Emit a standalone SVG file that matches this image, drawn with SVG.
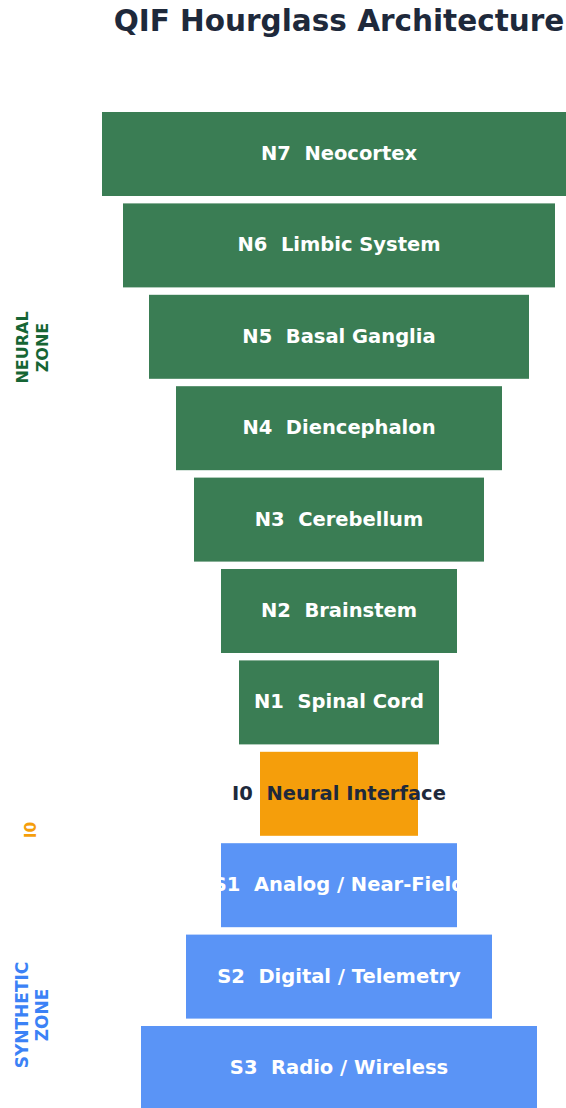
<svg xmlns="http://www.w3.org/2000/svg" width="566" height="1108" viewBox="0 0 566 1108" xml:space="preserve">
<style>
text{font-family:"DejaVu Sans",Verdana,sans-serif;font-weight:bold;white-space:pre}
.t{font-size:29.5px;fill:#1e293b}
.l{font-size:19.5px;fill:#ffffff;text-anchor:middle}
.d{fill:#1e293b}
.n rect{fill:#3a7d54}
.i rect{fill:#f59e0b}
.s rect{fill:#5a94f6}
.z{text-anchor:middle}
</style>
<rect width="566" height="1108" fill="#ffffff"/>
<text class="t" x="339" y="31" text-anchor="middle">QIF Hourglass Architecture</text>
<g id="zones">
<text class="z" fill="#166534" font-size="16" transform="translate(30,347.5) rotate(-90)"><tspan x="0" y="-2">NEURAL</tspan><tspan x="0" y="18">ZONE</tspan></text>
<text class="z" fill="#f59e0b" font-size="15.5" transform="translate(31,830) rotate(-90)" x="0" y="5">I0</text>
<text class="z" fill="#3b82f6" font-size="17" transform="translate(30,1015) rotate(-90)"><tspan x="0" y="-2">SYNTHETIC</tspan><tspan x="0" y="18">ZONE</tspan></text>
</g>
<g id="connectors"></g>
<g id="N7" class="n"><rect x="102" y="112" width="474" height="84"/><text class="l" x="339" y="160">N7  Neocortex</text></g>
<g id="N6" class="n"><rect x="123" y="203.4" width="432" height="84"/><text class="l" x="339" y="251.4">N6  Limbic System</text></g>
<g id="N5" class="n"><rect x="149" y="294.8" width="380" height="84"/><text class="l" x="339" y="342.8">N5  Basal Ganglia</text></g>
<g id="N4" class="n"><rect x="176" y="386.2" width="326" height="84"/><text class="l" x="339" y="434.2">N4  Diencephalon</text></g>
<g id="N3" class="n"><rect x="194" y="477.6" width="290" height="84"/><text class="l" x="339" y="525.6">N3  Cerebellum</text></g>
<g id="N2" class="n"><rect x="221" y="569" width="236" height="84"/><text class="l" x="339" y="617">N2  Brainstem</text></g>
<g id="N1" class="n"><rect x="239" y="660.4" width="200" height="84"/><text class="l" x="339" y="708.4">N1  Spinal Cord</text></g>
<g id="I0" class="i"><rect x="260" y="751.8" width="158" height="84"/><text class="l d" x="339" y="799.8">I0  Neural Interface</text></g>
<g id="S1" class="s"><rect x="221" y="843.2" width="236" height="84"/><text class="l" x="339" y="891.2">S1  Analog / Near-Field</text></g>
<g id="S2" class="s"><rect x="186" y="934.6" width="306" height="84"/><text class="l" x="339" y="982.6">S2  Digital / Telemetry</text></g>
<g id="S3" class="s"><rect x="141" y="1026" width="396" height="84"/><text class="l" x="339" y="1074">S3  Radio / Wireless</text></g>
</svg>
